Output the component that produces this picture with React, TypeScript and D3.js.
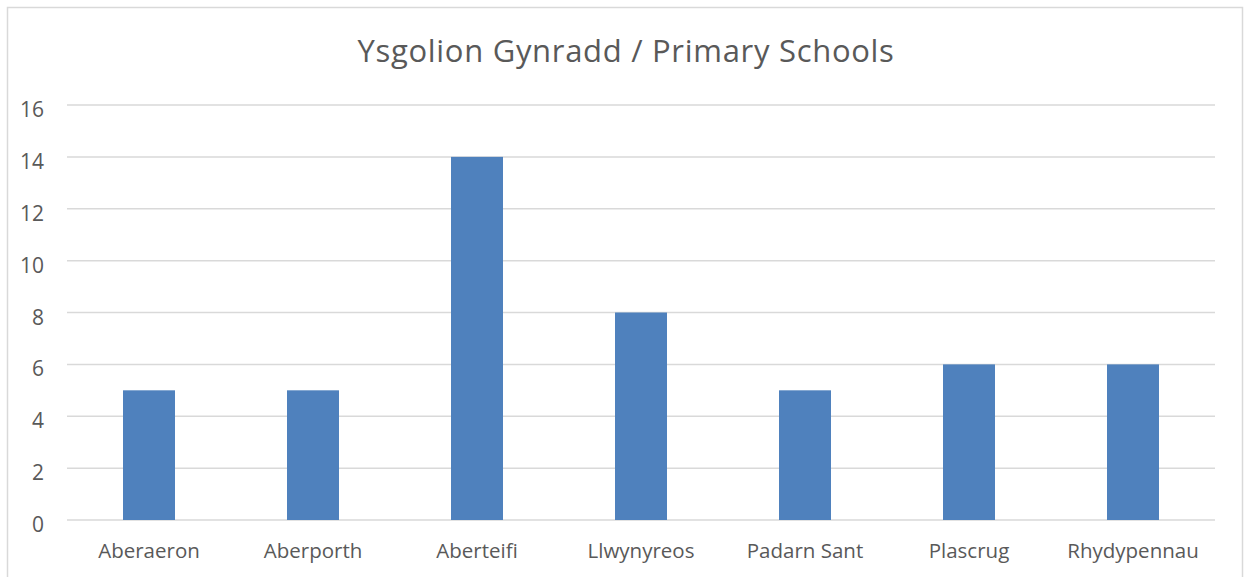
import React from "react";
import * as d3 from "d3";

const categories = ["Aberaeron", "Aberporth", "Aberteifi", "Llwynyreos", "Padarn Sant", "Plascrug", "Rhydypennau"];
const values = [5, 5, 14, 8, 5, 6, 6];
const yTicks = [0, 2, 4, 6, 8, 10, 12, 14, 16];
const title = "Ysgolion Gynradd / Primary Schools";

const W = 1244;
const H = 577;
const plot = { left: 67, right: 1215, top: 105, bottom: 520 };
const FONT = "Open Sans, Liberation Sans, sans-serif";

export default function App() {
  const x = d3
    .scaleBand<string>()
    .domain(categories)
    .range([plot.left, plot.right])
    .paddingInner(0.683)
    .paddingOuter(0.3415);
  const y = d3.scaleLinear().domain([0, 16]).range([plot.bottom, plot.top]);

  return (
    <svg
      width={W}
      height={H}
      style={{ position: "absolute", left: 0, top: 0, background: "#fff" }}
    >
      <rect x={7.5} y={7.5} width={1235} height={620} fill="#fff" stroke="#d9d9d9" strokeWidth={1.5} />
      <text x={626} y={61.5} textAnchor="middle" fontFamily={FONT} fontSize={31} letterSpacing={0.7} fill="#595959">
        {title}
      </text>
      {yTicks.map((t) => (
        <g key={t}>
          <line x1={plot.left} x2={plot.right} y1={y(t)} y2={y(t)} stroke="#d9d9d9" strokeWidth={1.5} />
          <text x={44} y={y(t) + 12} textAnchor="end" fontFamily={FONT} fontSize={21} fill="#595959">
            {t}
          </text>
        </g>
      ))}
      {categories.map((c, i) => (
        <rect
          key={c}
          x={x(c)}
          y={y(values[i])}
          width={x.bandwidth()}
          height={y(0) - y(values[i])}
          fill="#4f81bd"
        />
      ))}
      {categories.map((c) => (
        <text
          key={c}
          x={(x(c) as number) + x.bandwidth() / 2}
          y={558}
          textAnchor="middle"
          fontFamily={FONT}
          fontSize={20.5}
          fill="#595959"
        >
          {c}
        </text>
      ))}
    </svg>
  );
}
